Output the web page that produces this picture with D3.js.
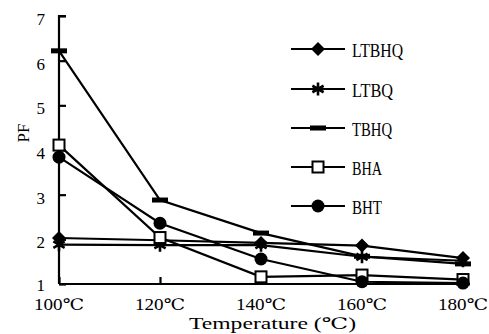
<!DOCTYPE html>
<html>
<head>
<meta charset="utf-8">
<script src="https://cdn.jsdelivr.net/npm/d3@7"></script>
<style>
  body { margin: 0; background: #fff; }
  text { font-family: "Liberation Serif", "DejaVu Serif", serif; fill: #000; }
</style>
</head>
<body>
<div id="chart"></div>
<script>
// data
const temps = [100, 120, 140, 160, 180];
const tempLabels = ['100℃', '120℃', '140℃', '160℃', '180℃'];
const yTicks = [1, 2, 3, 4, 5, 6, 7];
const seriesNames = ['LTBHQ', 'LTBQ', 'TBHQ', 'BHA', 'BHT'];
const ltbhq = [2.03, 1.98, 1.92, 1.86, 1.58];
const ltbq = [1.88, 1.87, 1.87, 1.61, 1.52];
const tbhq = [6.22, 2.88, 2.14, 1.62, 1.45];
const bha = [4.11, 2.04, 1.16, 1.2, 1.1];
const bht = [3.84, 2.36, 1.56, 1.05, 1.02];

const width = 489, height = 334;
const svg = d3.select('#chart').append('svg')
    .attr('width', width)
    .attr('height', height);

const x = d3.scaleLinear().domain([100, 180]).range([59, 463]);
const y = d3.scaleLinear().domain([1, 7]).range([284, 16]);

// axes (ticks point inward)
svg.append('g')
    .attr('transform', `translate(${x(100)},0)`)
    .call(d3.axisRight(y).tickValues(yTicks).tickSize(7).tickFormat(''))
    .call(g => g.select('.domain').attr('d', `M7,${y(7)}H0V${y(1)}H0`))
    .call(g => g.selectAll('path, line').attr('stroke', '#000').attr('stroke-width', 2.2));

svg.append('g')
    .attr('transform', `translate(0,${y(1)})`)
    .call(d3.axisTop(x).tickValues(temps).tickSize(7).tickFormat(''))
    .call(g => g.select('.domain').attr('d', `M${x(100)},0H470`))
    .call(g => g.selectAll('path, line').attr('stroke', '#000').attr('stroke-width', 2.2));

// tick labels
svg.append('g').selectAll('text')
    .data(yTicks)
    .enter()
    .append('text')
    .attr('x', 45)
    .attr('y', d => y(d) + (d === 1 ? 7 : 9))
    .attr('text-anchor', 'end')
    .attr('font-size', 17)
    .text(d => d);

svg.append('g').selectAll('text')
    .data(temps)
    .enter()
    .append('text')
    .attr('x', d => x(d) - 25)
    .attr('y', 310)
    .attr('font-size', 16)
    .attr('textLength', 50)
    .attr('lengthAdjust', 'spacingAndGlyphs')
    .text((d, i) => tempLabels[i]);

svg.append('text')
    .attr('x', 189)
    .attr('y', 329)
    .attr('font-size', 16)
    .attr('textLength', 167)
    .attr('lengthAdjust', 'spacingAndGlyphs')
    .text('Temperature (℃)');

svg.append('text')
    .attr('transform', 'translate(29,133)rotate(-90)')
    .attr('text-anchor', 'middle')
    .attr('font-size', 17)
    .text('PF');

// markers
const asteriskPath = (r) => {
    const dx = r * Math.cos(Math.PI / 6), dy = r * Math.sin(Math.PI / 6);
    return `M0,${-r}V${r}M${-dx},${-dy}L${dx},${dy}M${-dx},${dy}L${dx},${-dy}`;
};

const markers = {
    LTBHQ: g => g.append('path').attr('d', 'M0,-7L7,0L0,7L-7,0Z').attr('fill', '#000'),
    LTBQ: g => g.append('path').attr('d', asteriskPath(6.5)).attr('stroke', '#000').attr('stroke-width', 2.6).attr('fill', 'none'),
    TBHQ: g => g.append('rect').attr('x', -8).attr('y', -2.5).attr('width', 16).attr('height', 5).attr('fill', '#000'),
    BHA: g => g.append('rect').attr('x', -5.5).attr('y', -5.5).attr('width', 11).attr('height', 11).attr('fill', '#fff').attr('stroke', '#000').attr('stroke-width', 2),
    BHT: g => g.append('circle').attr('r', 6.5).attr('fill', '#000')
};

const series = [ltbhq, ltbq, tbhq, bha, bht];

const line = d3.line()
    .x((d, i) => x(temps[i]))
    .y(d => y(d));

series.forEach((vals) => {
    svg.append('path')
        .attr('d', line(vals))
        .attr('fill', 'none')
        .attr('stroke', '#000')
        .attr('stroke-width', 2.2);
});

series.forEach((vals, s) => {
    vals.forEach((v, i) => {
        const g = svg.append('g').attr('transform', `translate(${x(temps[i])},${y(v)})`);
        markers[seriesNames[s]](g);
    });
});

// legend
const legendY = [49, 89, 128, 167, 206];
const legendW = [51, 41, 40, 30, 30];
seriesNames.forEach((name, i) => {
    const g = svg.append('g').attr('transform', `translate(0,${legendY[i]})`);
    g.append('line')
        .attr('x1', 291).attr('x2', 345)
        .attr('stroke', '#000').attr('stroke-width', 2.2);
    markers[name](g.append('g').attr('transform', 'translate(318,0)'));
    g.append('text')
        .attr('x', 352)
        .attr('y', 8)
        .attr('font-size', 19)
        .attr('textLength', legendW[i])
        .attr('lengthAdjust', 'spacingAndGlyphs')
        .text(name);
});
</script>
</body>
</html>
